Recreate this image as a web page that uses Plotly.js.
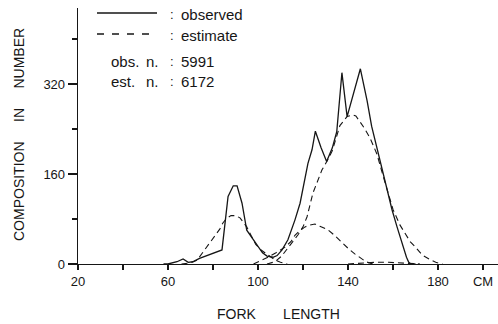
<!DOCTYPE html>
<html>
<head>
<meta charset="utf-8">
<script src="https://cdn.plot.ly/plotly-3.0.1.min.js"></script>
<style>html,body{margin:0;padding:0;background:#fff;}#chart{width:498px;height:324px;}</style>
</head>
<body>
<div id="chart"></div>
<script>
// Observed length composition (fork length, cm) and counts
const obsX = [58, 60, 64, 66.7, 69, 71, 74, 78, 82, 84, 86.7, 89, 90.7, 92.9, 95, 97.3, 98.7, 100, 102, 104, 106.7, 108.5, 110.7, 113.3, 116.4, 118.7, 120.9, 122.2, 124, 125.5, 128, 130.5, 133, 135, 137.3, 139.6, 145.5, 148.5, 150.5, 152, 154, 155.6, 157.5, 159.6, 161.8, 164, 166, 167, 168, 170];
const obsY = [0, 0, 4, 9, 3, 4, 10, 16, 21, 25, 120, 139, 139, 108, 60, 47, 39, 30, 20, 14, 12, 15, 25, 43, 78, 108, 155, 179, 203, 236, 207, 182, 206, 235, 340, 262, 347, 290, 245, 220, 188, 165, 130, 96, 66, 37, 12, 3, 0, 0];

// Estimated component 1
const est1X = [66, 70, 73, 76.4, 80, 83, 84.4, 86, 88, 90, 92, 94, 95, 97, 99, 101, 104.4, 107.6, 110, 113];
const est1Y = [0, 2, 7, 25, 46, 62, 73, 81, 86, 86, 82, 72, 66, 50, 35, 26, 16, 7, 3, 0];

// Estimated component 2
const est2X = [98, 101.8, 104.4, 108, 112, 114.7, 116.4, 118.5, 120.9, 123, 125.3, 127.5, 131, 134, 137, 140, 143, 146, 148, 151];
const est2Y = [0, 7, 12, 20, 30, 40, 51, 59, 66, 69, 71, 67, 61, 51, 39, 28, 18, 9, 4, 0];

// Estimated component 3
const est3X = [104, 107.6, 110.5, 113.3, 115, 117.8, 120, 121.8, 124.4, 126.5, 128.4, 130.7, 133, 136.4, 138, 139.6, 142, 143.5, 145.3, 147.5, 149.8, 152.9, 155, 157.8, 160, 163, 165, 167.6, 170, 173, 176, 179, 182];
const est3Y = [0, 4, 14, 28, 38, 52, 66, 84, 126, 148, 167, 183, 201, 246, 255, 262, 265, 263, 253, 240, 224, 195, 165, 125, 97, 70, 58, 40, 30, 16, 9, 3, 0];

// Small component near the baseline
const est4X = [140, 146, 152, 158, 164, 168, 172];
const est4Y = [0, 2, 3, 3, 2, 1, 0];

const xTickVals = [20, 40, 60, 80, 100, 120, 140, 160, 180, 200];
const xTickText = ['20', '', '60', '', '100', '', '140', '', '180', 'CM'];
const yTickVals = [0, 160, 320];

const ink = '#161616';
const FONT = 'Liberation Sans, Arial, sans-serif';

function dashed(x, y) {
  return {x: x, y: y, type: 'scatter', mode: 'lines', hoverinfo: 'skip',
          line: {color: ink, width: 1.1, dash: '6px,4px'}};
}
const traces = [
  dashed(est1X, est1Y), dashed(est2X, est2Y), dashed(est3X, est3Y), dashed(est4X, est4Y),
  {x: obsX, y: obsY, type: 'scatter', mode: 'lines', hoverinfo: 'skip',
   line: {color: ink, width: 1.3}}
];

// pixel -> paper helpers (plot area: left 78, right 498, top 8, bottom 264)
const PX = p => (p - 78) / 420;
const PY = p => (264 - p) / 256;

function txt(text, px, py, size, xanchor, extra) {
  return Object.assign({text: text, x: PX(px), y: PY(py), xref: 'paper', yref: 'paper',
    showarrow: false, xanchor: xanchor || 'left', yanchor: 'middle',
    font: {family: FONT, size: size, color: ink}}, extra || {});
}

const layout = {
  width: 498, height: 324,
  margin: {l: 78, r: 0, t: 8, b: 60, pad: 0},
  paper_bgcolor: '#fff', plot_bgcolor: '#fff',
  showlegend: false,
  font: {family: FONT, size: 13, color: ink},
  xaxis: {
    range: [20, 206.67], tickmode: 'array', tickvals: xTickVals, ticktext: xTickText,
    showline: true, linecolor: ink, linewidth: 1.3, ticks: 'outside', ticklen: 5,
    tickcolor: ink, tickwidth: 1.2, showgrid: false, zeroline: false,
    tickfont: {family: FONT, size: 13, color: ink}, fixedrange: true
  },
  yaxis: {
    range: [0, 455], tickmode: 'array', tickvals: yTickVals,
    showline: true, linecolor: ink, linewidth: 1.3, ticks: 'outside', ticklen: 9,
    tickcolor: ink, tickwidth: 1.2, showgrid: false, zeroline: false,
    minor: {tickmode: 'linear', tick0: 0, dtick: 80, ticks: 'outside', ticklen: 5, tickcolor: ink, tickwidth: 1.2, showgrid: false},
    tickfont: {family: FONT, size: 13, color: ink}, fixedrange: true
  },
  shapes: [
    {type: 'line', xref: 'paper', yref: 'paper', x0: PX(97), x1: PX(157), y0: PY(13), y1: PY(13),
     line: {color: ink, width: 1.3}},
    {type: 'line', xref: 'paper', yref: 'paper', x0: PX(97), x1: PX(157), y0: PY(34), y1: PY(34),
     line: {color: ink, width: 1.3, dash: '7px,8px'}}
  ],
  annotations: [
    txt(':', 172, 14, 13, 'center'),
    txt('observed', 179, 14, 15),
    txt(':', 172, 35, 13, 'center'),
    txt('estimate', 179, 35, 15),
    txt('obs.', 109, 61, 15),
    txt('n.', 144, 61, 15),
    txt(':', 172, 61, 13, 'center'),
    txt('5991', 179, 61, 15),
    txt('est.', 109, 81, 15),
    txt('n.', 144, 81, 15),
    txt(':', 172, 81, 13, 'center'),
    txt('6172', 179, 81, 15),
    txt('COMPOSITION     IN     NUMBER', 19, 135, 14, 'center', {textangle: -90}),
    txt('FORK       LENGTH', 278.5, 314, 14, 'center')
  ]
};

Plotly.newPlot('chart', traces, layout, {staticPlot: true, displayModeBar: false});
</script>
</body>
</html>
